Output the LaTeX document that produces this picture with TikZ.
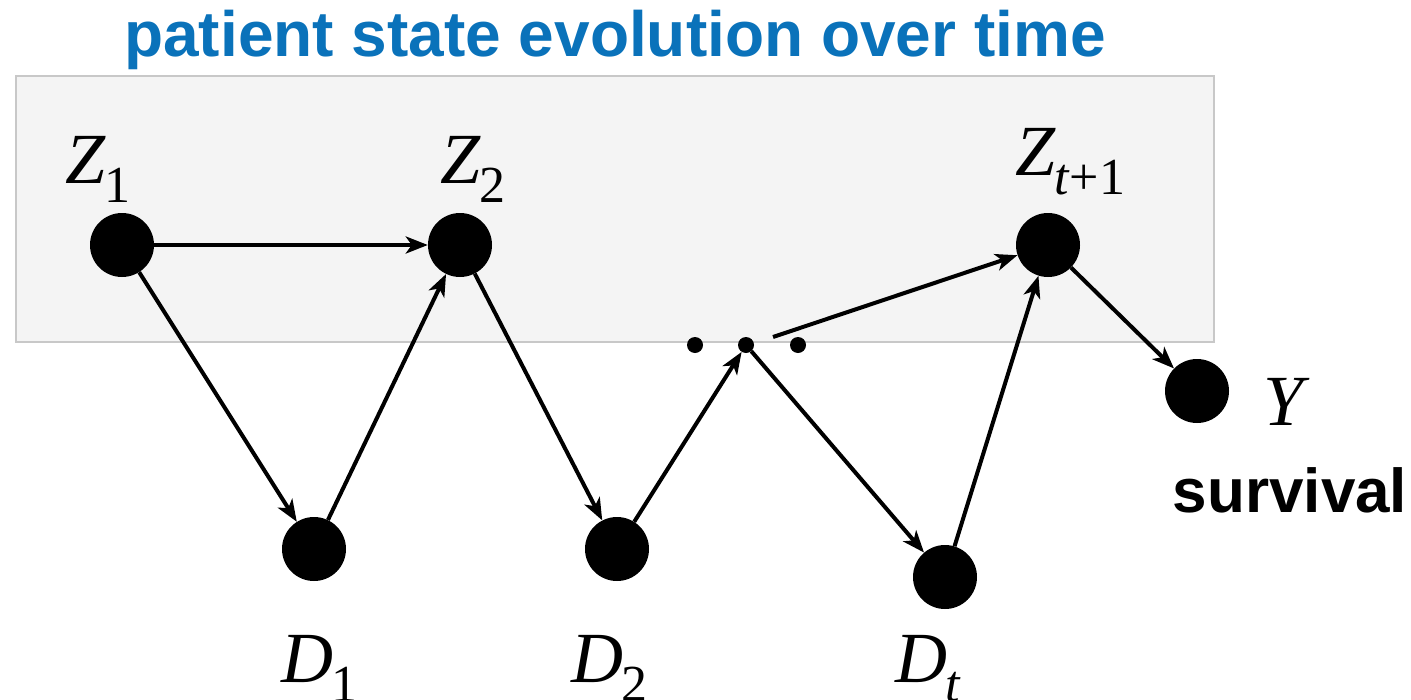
\documentclass[tikz,border=0pt]{standalone}
\usepackage{fontspec}
\setmainfont{Liberation Serif}
\newfontfamily\headfont{Liberation Sans}
\usetikzlibrary{arrows.meta}
\definecolor{titleblue}{HTML}{0A72BA}
\definecolor{boxfill}{HTML}{F4F4F4}
\definecolor{boxline}{HTML}{C8C8C8}
\newcommand{\vlab}[2]{\textit{#1}\kern-0.02em\raisebox{-0.27em}{\fontsize{52}{52}\selectfont #2}}
\begin{document}
\begin{tikzpicture}[x=1pt,y=-1pt,
  bignode/.style={circle,fill=black,inner sep=0pt,minimum size=64pt},
  dotnode/.style={circle,fill=black,inner sep=0pt,minimum size=16pt},
  conn/.style={line width=4pt,-{Stealth[length=22pt,width=17pt,inset=6pt]}},
  varlab/.style={font=\fontsize{72}{72}\selectfont,inner sep=0pt,anchor=base west},
  boldlab/.style={font=\headfont\bfseries\fontsize{62}{62}\selectfont,inner sep=0pt}]
\useasboundingbox (0,0) rectangle (1411,699);
\node[draw=boxline,fill=boxfill,line width=2pt,minimum width=1198pt,minimum height=266pt,inner sep=0pt,anchor=north west] (box) at (15,75) {};
\node[font=\headfont\bfseries\fontsize{64}{64}\selectfont,text=titleblue,inner sep=0pt] (title) at (615,40) {patient state evolution over time};
\node[bignode] (z1) at (122,245) {};
\node[bignode] (z2) at (460,245) {};
\node[bignode] (zt) at (1048,245) {};
\node[bignode] (y) at (1197,391) {};
\node[bignode] (d1) at (314,549) {};
\node[bignode] (d2) at (617,549) {};
\node[bignode] (dt) at (945,577) {};
\node[dotnode] (dotA) at (695,345) {};
\node[dotnode] (dotB) at (746,345) {};
\node[dotnode] (dotC) at (798,345) {};
\coordinate (lstart) at (773,337);
\node[varlab] (lz1) at (65,183) {\vlab{Z}{1}};
\node[varlab] (lz2) at (440,183) {\vlab{Z}{2}};
\node[varlab] (lzt) at (1015,175) {\vlab{Z}{\textit{t}+1}};
\node[varlab] (ly) at (1263,425) {\textit{Y}};
\node[varlab] (ld1) at (281,682) {\vlab{D}{1}};
\node[varlab] (ld2) at (571,682) {\vlab{D}{2}};
\node[varlab] (ldt) at (895,682) {\vlab{D}{\textit{t}}};
\node[boldlab] (surv) at (1290,490) {survival};
\draw[conn] (z1) -- (z2);
\draw[conn] (z1) -- (d1);
\draw[conn] (d1) -- (z2);
\draw[conn] (z2) -- (d2);
\draw[conn] (d2) -- (dotB);
\draw[conn] (dotB) -- (dt);
\draw[conn] (lstart) -- (zt);
\draw[conn] (dt) -- (zt);
\draw[conn] (zt) -- (y);
\end{tikzpicture}
\end{document}
